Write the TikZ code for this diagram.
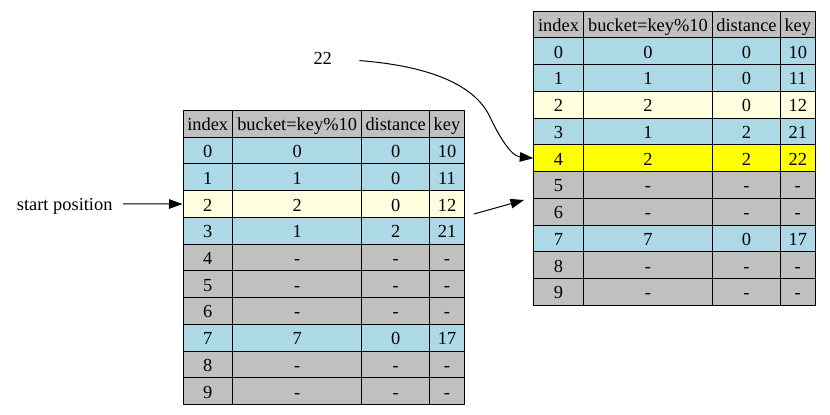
\documentclass[tikz,border=0pt]{standalone}
\usepackage{fontspec}
\setmainfont{Liberation Serif}
\usetikzlibrary{arrows.meta}
\definecolor{lblue}{HTML}{ADD8E6}
\definecolor{lyel}{HTML}{FFFFE0}
\definecolor{hgray}{HTML}{C0C0C0}
\definecolor{hyel}{HTML}{FFFF00}
\tikzset{
  cell/.style={draw=black, line width=1pt, inner sep=0pt, minimum height=26.73pt,
    text height=13.9pt, text depth=0pt, anchor=north west,
    font=\fontsize{18.4}{22}\selectfont},
  lbl/.style={inner sep=0pt, minimum height=26.73pt, text height=13.9pt, text depth=0pt,
    font=\fontsize{18.4}{22}\selectfont},
  arr/.style={-{Triangle[length=13.5pt,width=9.5pt]}, line width=1pt},
}
\newcommand\mytabrow[8]{%
  \node[cell, fill=#4, minimum width=49.5pt] (#1-0) at ({#2},{#3}) {#5};
  \node[cell, fill=#4, minimum width=129.3pt] (#1-1) at ({#2+49.5},{#3}) {#6};
  \node[cell, fill=#4, minimum width=67.7pt] (#1-2) at ({#2+178.8},{#3}) {#7};
  \node[cell, fill=#4, minimum width=35pt] (#1-3) at ({#2+246.5},{#3}) {#8};
}
\begin{document}
\begin{tikzpicture}[x=1pt, y=-1pt]
\useasboundingbox[fill=white] (0,0) rectangle (830,415);
% left table
\mytabrow{L-h}{182.5}{110}{hgray}{index}{bucket=key\%10}{distance}{key}
\mytabrow{L-0}{182.5}{110+1*26.73}{lblue}{0}{0}{0}{10}
\mytabrow{L-1}{182.5}{110+2*26.73}{lblue}{1}{1}{0}{11}
\mytabrow{L-2}{182.5}{110+3*26.73}{lyel}{2}{2}{0}{12}
\mytabrow{L-3}{182.5}{110+4*26.73}{lblue}{3}{1}{2}{21}
\mytabrow{L-4}{182.5}{110+5*26.73}{hgray}{4}{-}{-}{-}
\mytabrow{L-5}{182.5}{110+6*26.73}{hgray}{5}{-}{-}{-}
\mytabrow{L-6}{182.5}{110+7*26.73}{hgray}{6}{-}{-}{-}
\mytabrow{L-7}{182.5}{110+8*26.73}{lblue}{7}{7}{0}{17}
\mytabrow{L-8}{182.5}{110+9*26.73}{hgray}{8}{-}{-}{-}
\mytabrow{L-9}{182.5}{110+10*26.73}{hgray}{9}{-}{-}{-}
% right table
\mytabrow{R-h}{533.3}{10.7}{hgray}{index}{bucket=key\%10}{distance}{key}
\mytabrow{R-0}{533.3}{10.7+1*26.73}{lblue}{0}{0}{0}{10}
\mytabrow{R-1}{533.3}{10.7+2*26.73}{lblue}{1}{1}{0}{11}
\mytabrow{R-2}{533.3}{10.7+3*26.73}{lyel}{2}{2}{0}{12}
\mytabrow{R-3}{533.3}{10.7+4*26.73}{lblue}{3}{1}{2}{21}
\mytabrow{R-4}{533.3}{10.7+5*26.73}{hyel}{4}{2}{2}{22}
\mytabrow{R-5}{533.3}{10.7+6*26.73}{hgray}{5}{-}{-}{-}
\mytabrow{R-6}{533.3}{10.7+7*26.73}{hgray}{6}{-}{-}{-}
\mytabrow{R-7}{533.3}{10.7+8*26.73}{lblue}{7}{7}{0}{17}
\mytabrow{R-8}{533.3}{10.7+9*26.73}{hgray}{8}{-}{-}{-}
\mytabrow{R-9}{533.3}{10.7+10*26.73}{hgray}{9}{-}{-}{-}
% labels
\node[lbl, minimum width=116.6pt] (sp) at (64.7,{110+3*26.73+13.365}) {start position};
\node[lbl, minimum width=73pt] (t22) at (322.7,57.6) {22};
% connectors
\draw[arr] (sp) -- (L-2-0.west);
\coordinate (m1) at (474,214);
\coordinate (m2) at (524,200);
\draw[arr] (m1) -- (m2);
\draw[arr] ([yshift=-3pt]t22.east) .. controls (430,66) and (475,85) .. (490,117)
  .. controls (497,132) and (510,156) .. (R-4-0.west);
\end{tikzpicture}
\end{document}
